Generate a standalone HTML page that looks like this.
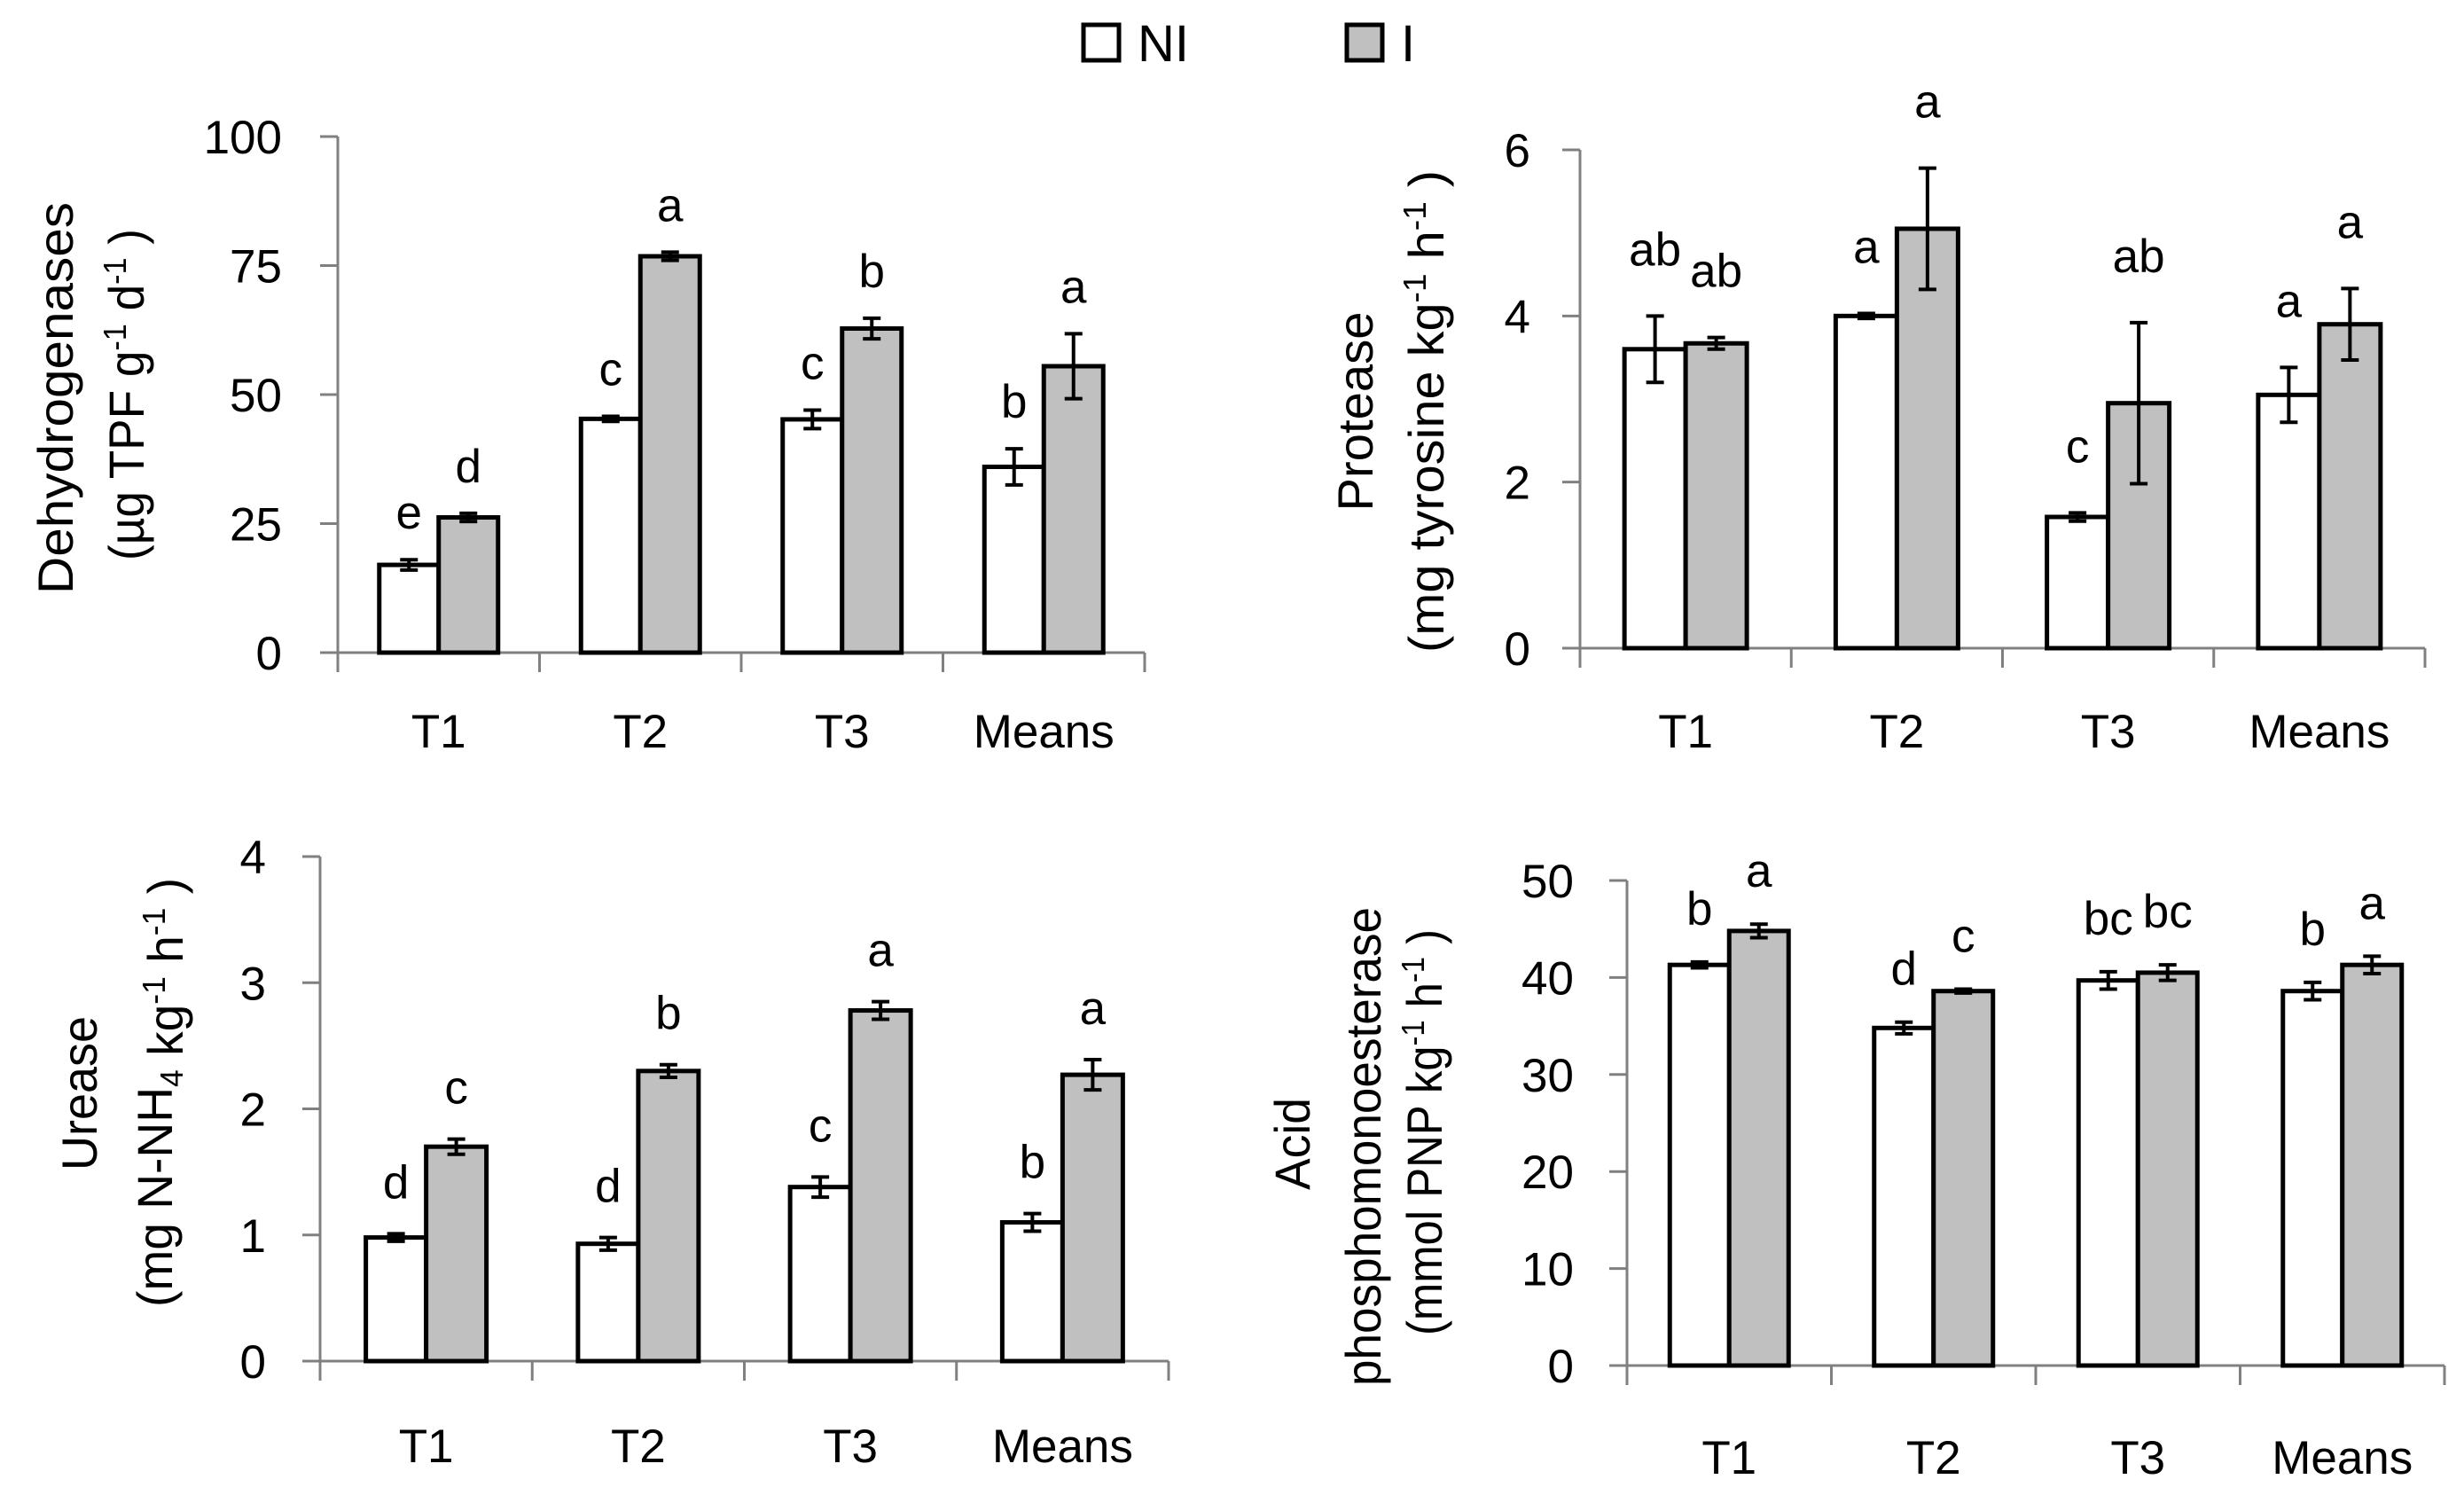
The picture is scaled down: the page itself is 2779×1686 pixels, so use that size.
<!DOCTYPE html>
<html><head><meta charset="utf-8"><style>
html,body{margin:0;padding:0;background:#fff;}
svg{display:block;font-family:"Liberation Sans",sans-serif;}
</style></head><body>
<svg id="chart" width="2779" height="1686" viewBox="0 0 2779 1686" xmlns="http://www.w3.org/2000/svg">
<rect width="2779" height="1686" fill="#fff"/>
<g>
 <g>
  <rect x="1222" y="28" width="40" height="40" fill="#fff" stroke="#000" stroke-width="5"/>
  <text x="1283" y="69" font-size="58">NI</text>
 </g>
 <g>
  <rect x="1519" y="28" width="40" height="40" fill="#c0c0c0" stroke="#000" stroke-width="5"/>
  <text x="1580" y="69" font-size="58">I</text>
 </g>
</g>
</svg>
<script>
const categories = ["T1","T2","T3","Means"];

const dehydroNI = [17, 45.3, 45.2, 36];
const dehydroNIerr = [1, 0.5, 1.8, 3.5];
const dehydroI = [26.2, 76.8, 62.8, 55.5];
const dehydroIerr = [0.8, 0.8, 2, 6.3];
const dehydroLetNI = ["e","c","c","b"];
const dehydroLetI = ["d","a","b","a"];
const dehydroTicks = [0, 25, 50, 75, 100];

const proteaseNI = [3.6, 4.0, 1.58, 3.05];
const proteaseNIerr = [0.4, 0.03, 0.05, 0.33];
const proteaseI = [3.67, 5.05, 2.95, 3.9];
const proteaseIerr = [0.07, 0.73, 0.97, 0.43];
const proteaseLetNI = ["ab","a","c","a"];
const proteaseLetI = ["ab","a","ab","a"];
const proteaseTicks = [0, 2, 4, 6];

const ureaseNI = [0.98, 0.93, 1.38, 1.1];
const ureaseNIerr = [0.03, 0.05, 0.08, 0.07];
const ureaseI = [1.7, 2.3, 2.78, 2.27];
const ureaseIerr = [0.06, 0.05, 0.07, 0.12];
const ureaseLetNI = ["d","d","c","b"];
const ureaseLetI = ["c","b","a","a"];
const ureaseTicks = [0, 1, 2, 3, 4];

const phosNI = [41.3, 34.8, 39.7, 38.6];
const phosNIerr = [0.3, 0.6, 0.9, 0.9];
const phosI = [44.8, 38.6, 40.5, 41.3];
const phosIerr = [0.7, 0.2, 0.8, 0.9];
const phosLetNI = ["b","d","bc","b"];
const phosLetI = ["a","c","bc","a"];
const phosTicks = [0, 10, 20, 30, 40, 50];

const NS = "http://www.w3.org/2000/svg";
const svg = document.getElementById("chart");
function mk(tag, parent, attrs){
  const e = document.createElementNS(NS, tag);
  for (const k in attrs) e.setAttribute(k, attrs[k]);
  parent.appendChild(e);
  return e;
}

function panel(p){
  const g = mk("g", svg, {});
  
  
  const ymax = p.ticks[p.ticks.length-1];
  const yS = v => p.y0 - (v/ymax)*(p.y0 - p.yTop);
  const step = (p.xEnd - p.ax)/categories.length;
  const xC = i => p.ax + step*(i+0.5);

  const yax = mk("line", g, {x1:p.ax, y1:p.yTop, x2:p.ax, y2:p.y0, stroke:"#808080", "stroke-width":3});
  
  
  p.ticks.forEach(t=>{
    const y = yS(t);
    const tk = mk("line", g, {x1:p.ax-20, y1:y, x2:p.ax, y2:y, stroke:"#808080", "stroke-width":3});
    
    
    const tl = mk("text", g, {x:p.tlx, y:y+19, "font-size":53, "text-anchor":"end"});
    tl.textContent = t;
    
    
  });
  const xax = mk("line", g, {x1:p.ax-20, y1:p.y0, x2:p.xEnd, y2:p.y0, stroke:"#808080", "stroke-width":3});
  
  
  for (let i=0;i<=categories.length;i++){
    const x = p.ax + step*i;
    const tk = mk("line", g, {x1:x, y1:p.y0, x2:x, y2:p.y0+22, stroke:"#808080", "stroke-width":3});
    
    
  }
  categories.forEach((c,i)=>{
    const tl = mk("text", g, {x:xC(i), y:p.catY, "font-size":53, "text-anchor":"middle"});
    tl.textContent = c;
    
    
  });
  const series = [
    {v:p.ni, e:p.nie, l:p.lni, fill:"#fff", off:-1, key:"ni"},
    {v:p.i, e:p.ie, l:p.li, fill:"#c0c0c0", off:0, key:"i"}
  ];
  series.forEach(s=>{
    s.v.forEach((v,i)=>{
      const x0 = xC(i) + s.off*p.bw;
      const cx = x0 + p.bw/2;
      const yv = yS(v);
      const b = mk("rect", g, {x:x0, y:yv, width:p.bw, height:p.y0-yv, fill:s.fill, stroke:"#000", "stroke-width":5});
      
      
      const yt = yS(v + s.e[i]), yb = yS(v - s.e[i]);
      const eg = mk("g", g, {stroke:"#000", "stroke-width":4});
      
      
      mk("line", eg, {x1:cx, y1:yt, x2:cx, y2:yb});
      mk("line", eg, {x1:cx-10, y1:yt, x2:cx+10, y2:yt});
      mk("line", eg, {x1:cx-10, y1:yb, x2:cx+10, y2:yb});
      const lt = mk("text", g, {x:cx, y:yt-p.gap, "font-size":53, "text-anchor":"middle"});
      lt.textContent = s.l[i];
      
      
    });
  });
  p.titles.forEach(t=>{
    const tx = mk("text", g, {transform:`translate(${t.x},${t.cy}) rotate(-90)`, "font-size":56, "text-anchor":"middle", dy:"0.36em", textLength:t.len, lengthAdjust:"spacingAndGlyphs"});
    tx.innerHTML = t.html;
    
    
  });
}
const sup = s => `<tspan font-size="36" dy="-20">${s}</tspan><tspan dy="20"> </tspan>`;
const sub = s => `<tspan font-size="36" dy="12">${s}</tspan><tspan dy="-12"></tspan>`;

panel({name:"dehydrogenases-panel", ax:381, yTop:154, y0:736, xEnd:1291, bw:67, tlx:318, catY:843, gap:35,
  ticks:dehydroTicks, ni:dehydroNI, nie:dehydroNIerr, i:dehydroI, ie:dehydroIerr, lni:dehydroLetNI, li:dehydroLetI,
  titles:[{x:62, cy:449, len:442, html:"Dehydrogenases"},
          {x:142, cy:445, len:374, html:"(µg TPF g"+sup("-1")+"d"+sup("-1")+")"}]});
panel({name:"protease-panel", ax:1782, yTop:169, y0:731, xEnd:2735, bw:69, tlx:1726, catY:843, gap:57,
  ticks:proteaseTicks, ni:proteaseNI, nie:proteaseNIerr, i:proteaseI, ie:proteaseIerr, lni:proteaseLetNI, li:proteaseLetI,
  titles:[{x:1528, cy:464, len:225, html:"Protease"},
          {x:1608, cy:464, len:544, html:"(mg  tyrosine kg"+sup("-1")+"h"+sup("-1")+")"}]});
panel({name:"urease-panel", ax:361, yTop:966, y0:1535, xEnd:1318, bw:68, tlx:300, catY:1649, gap:40,
  ticks:ureaseTicks, ni:ureaseNI, nie:ureaseNIerr, i:ureaseI, ie:ureaseIerr, lni:ureaseLetNI, li:ureaseLetI,
  titles:[{x:89, cy:1233, len:174, html:"Urease"},
          {x:174, cy:1232, len:484, html:"(mg N-NH"+sub("4")+" kg"+sup("-1")+"h"+sup("-1")+")"}]});
panel({name:"acid-phosphomonoesterase-panel", ax:1835, yTop:993, y0:1540, xEnd:2757, bw:67, tlx:1775, catY:1662, gap:42,
  ticks:phosTicks, ni:phosNI, nie:phosNIerr, i:phosI, ie:phosIerr, lni:phosLetNI, li:phosLetI,
  titles:[{x:1457, cy:1290, len:104, html:"Acid"},
          {x:1537, cy:1293, len:540, html:"phosphomonoesterase"},
          {x:1606, cy:1277, len:458, html:"(mmol PNP kg"+sup("-1")+"h"+sup("-1")+")"}]});
</script>
</body></html>
